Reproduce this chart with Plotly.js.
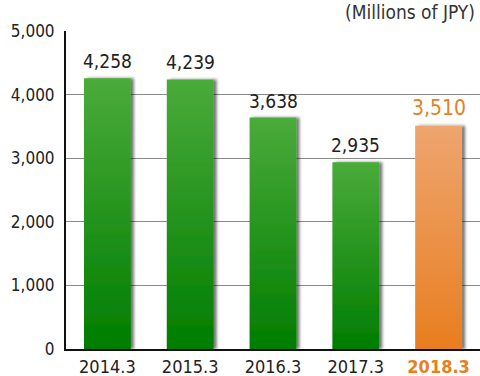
<!DOCTYPE html>
<html><head><meta charset="utf-8">
<script src="https://cdn.plot.ly/plotly-3.0.1.min.js"></script>
<style>html,body{margin:0;padding:0;background:#fff}#chart{width:480px;height:376px}</style>
</head><body><div id="chart"></div>
<script>
var categories = ["2014.3", "2015.3", "2016.3", "2017.3", "2018.3"];
var values = [4258, 4239, 3638, 2935, 3510];
var tickValues = [0, 1000, 2000, 3000, 4000, 5000];
var tickLabels = ["0", "1,000", "2,000", "3,000", "4,000", "5,000"];
var unitLabel = "(Millions of JPY)";

var FONT = "'DejaVu Sans Condensed', 'Liberation Sans Narrow', Arial, sans-serif";
var GREEN = "#2f9a25", ORANGE = "#ec8c3c", ORANGE_TXT = "#e8801e";
var last = categories.length - 1;
var colors = categories.map(function(c, i){ return i === last ? ORANGE : GREEN; });
var tickText = categories.map(function(c, i){
  return i === last ? '<span style="color:' + ORANGE_TXT + '"><b>' + c + '</b></span>' : c;
});

var trace = {
  type: "bar", x: categories, y: values,
  width: 0.566,
  marker: {color: colors, line: {width: 0}},
  hoverinfo: "none"
};

// category axis: annotation x given as the category's index
var valueAnnotations = categories.map(function(c, i){
  return {
    x: i, y: values[i], xref: "x", yref: "y",
    text: values[i].toLocaleString("en-US"),
    showarrow: false, yanchor: "bottom", yshift: 4,
    font: {family: FONT, size: i === last ? 21 : 19, color: i === last ? ORANGE_TXT : "#222"}
  };
});

var layout = {
  width: 480, height: 376,
  margin: {l: 66, r: 0, t: 31, b: 27},
  paper_bgcolor: "#fff", plot_bgcolor: "#fff",
  showlegend: false,
  xaxis: {
    type: "category", range: [-0.5, 4.5],
    tickvals: categories, ticktext: tickText,
    tickfont: {family: FONT, size: 18, color: "#222"},
    showline: true, linecolor: "#111", linewidth: 2,
    ticks: "", showgrid: false, zeroline: false, fixedrange: true,
    ticklabelstandoff: 0
  },
  yaxis: {
    range: [0, 5000], tickvals: tickValues, ticktext: tickLabels,
    tickfont: {family: FONT, size: 17, color: "#222"},
    showline: true, linecolor: "#111", linewidth: 2,
    showgrid: true, gridcolor: "#8a8a8a", gridwidth: 1,
    zeroline: false, ticks: "", ticklabelstandoff: 6, fixedrange: true
  },
  annotations: valueAnnotations.concat([{
    text: unitLabel, xref: "paper", yref: "paper", x: 1, y: 1,
    xanchor: "right", yanchor: "bottom", yshift: 6, xshift: -3, showarrow: false,
    font: {family: FONT, size: 19, color: "#333"}
  }])
};

Plotly.newPlot("chart", [trace], layout, {displayModeBar: false, staticPlot: true}).then(function(gd){
  var svg = gd.querySelector(".main-svg");
  var ns = "http://www.w3.org/2000/svg";
  var defs = svg.querySelector("defs");
  function grad(id, top, bottom){
    var g = document.createElementNS(ns, "linearGradient");
    g.setAttribute("id", id); g.setAttribute("x1", "0"); g.setAttribute("y1", "0");
    g.setAttribute("x2", "0"); g.setAttribute("y2", "1");
    [[0, top], [1, bottom]].forEach(function(s){
      var st = document.createElementNS(ns, "stop");
      st.setAttribute("offset", s[0]); st.setAttribute("stop-color", s[1]);
      g.appendChild(st);
    });
    defs.appendChild(g);
  }
  grad("gGreen", "#4aab3a", "#007d00");
  grad("gOrange", "#eea56f", "#e87e1f");
  var f = document.createElementNS(ns, "filter");
  f.setAttribute("id", "barShadow"); f.setAttribute("x", "-20%"); f.setAttribute("y", "-5%");
  f.setAttribute("width", "150%"); f.setAttribute("height", "110%");
  var ds = document.createElementNS(ns, "feDropShadow");
  ds.setAttribute("dx", "3"); ds.setAttribute("dy", "0"); ds.setAttribute("stdDeviation", "1.5");
  ds.setAttribute("flood-color", "#000"); ds.setAttribute("flood-opacity", "0.55");
  f.appendChild(ds); defs.appendChild(f);
  var paths = svg.querySelectorAll(".barlayer .point path");
  paths.forEach(function(p, i){
    p.style.fill = "url(#" + (i === last ? "gOrange" : "gGreen") + ")";
    p.setAttribute("filter", "url(#barShadow)");
  });
});
</script></body></html>
